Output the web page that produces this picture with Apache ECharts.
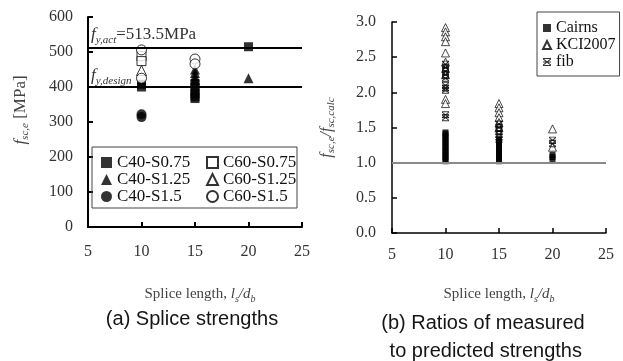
<!DOCTYPE html>
<html><head><meta charset="utf-8">
<script src="https://cdn.jsdelivr.net/npm/echarts@6/dist/echarts.min.js"></script>
<style>html,body{margin:0;padding:0;background:#fff}#c{width:623px;height:361px}</style>
</head><body><div id="c"></div>
<script>
// ---- data: panel (a) splice strengths [MPa] ----
const c40s075 = [[10,408],[10,400],[15,410],[15,400],[15,390],[15,380],[15,372],[15,367],[20,515]];
const c60s075 = [[10,488],[10,474]];
const c40s125 = [[15,450],[15,440],[15,430],[15,420],[20,425]];
const c60s125 = [[10,447]];
const c40s15  = [[10,322],[10,314]];
const c60s15  = [[10,506],[10,425],[15,480],[15,466]];
const fyAct = 513.5;
const fyDesign = 400;
// ---- data: panel (b) ratios ----
const cairns = [[10,1.02],[10,1.05],[10,1.08],[10,1.11],[10,1.14],[10,1.17],[10,1.20],[10,1.23],[10,1.26],[10,1.29],[10,1.32],[10,1.35],[10,1.38],[10,1.41],[10,1.43],
  [15,1.02],[15,1.05],[15,1.08],[15,1.11],[15,1.14],[15,1.17],[15,1.20],[15,1.23],[15,1.26],[15,1.29],[15,1.31],
  [20,1.05],[20,1.08],[20,1.11]];
const kci2007 = [[10,2.92],[10,2.86],[10,2.79],[10,2.72],[10,2.56],[10,2.43],[10,2.34],[10,2.25],[10,1.90],[10,1.84],
  [15,1.84],[15,1.78],[15,1.71],[15,1.64],[15,1.57],[15,1.50],
  [20,1.48],[20,1.22]];
const fib = [[10,2.40],[10,2.35],[10,2.30],[10,2.25],[10,2.20],[10,2.10],[10,2.06],[10,2.03],[10,1.68],[10,1.64],
  [15,1.55],[15,1.50],[15,1.45],[15,1.40],[15,1.36],[15,1.33],
  [20,1.32],[20,1.27]];
const ratioRef = 1.0;
const xMin = 5, xMax = 25, xStep = 5;

const serif = 'Liberation Serif';
const sans = 'Liberation Sans';
const fibPath = 'path://M0,0L10,0L10,1.3L0,1.3Z M0,8.7L10,8.7L10,10L0,10Z M0,4.4L10,4.4L10,5.6L0,5.6Z M0,1.3L1.3,1.3L5,4.1L8.7,1.3L10,1.3L10,2L5.9,5L10,8L10,8.7L8.7,8.7L5,5.9L1.3,8.7L0,8.7L0,8L4.1,5L0,2Z';
const hollow = {color:'#fff', borderColor:'#000', borderWidth:1};
const solid = {color:'#000'};

const axisLbl = {fontFamily: serif, fontSize: 16, color: '#333'};
function xAxisCfg(gi, margin, gap, lw, pad){
  return {type:'value', gridIndex:gi, min:xMin, max:xMax, interval:xStep,
    axisLine:{lineStyle:{color:'#000', width:lw}}, axisTick:{inside:true, length:5, lineStyle:{color:'#000', width:lw}},
    splitLine:{show:false}, axisLabel:Object.assign({margin:margin}, axisLbl),
    name:'{p|}{n|Splice length, }{i|l}{s|s}{i|/d}{s|b}', nameLocation:'middle', nameGap:gap,
    nameTextStyle:{rich:{
      p:{width:pad, lineHeight:20},
      n:{fontFamily:serif, fontSize:15, color:'#444', lineHeight:20, verticalAlign:'middle'},
      i:{fontFamily:serif, fontSize:15, fontStyle:'italic', color:'#444', lineHeight:20, verticalAlign:'middle'},
      s:{fontFamily:serif, fontSize:10, fontStyle:'italic', color:'#444', lineHeight:12, verticalAlign:'bottom'}
    }}
  };
}
const subRich = {
  i:{fontFamily:serif, fontSize:17, fontStyle:'italic', color:'#333', lineHeight:22, verticalAlign:'middle'},
  s:{fontFamily:serif, fontSize:11, fontStyle:'italic', color:'#333', lineHeight:12, verticalAlign:'bottom'},
  n:{fontFamily:serif, fontSize:17, color:'#333', lineHeight:22, verticalAlign:'middle'}
};

const chart = echarts.init(document.getElementById('c'), null, {renderer:'canvas'});
const leftSeries = [
  {name:'C40-S0.75', data:c40s075, symbol:'rect', symbolSize:9, itemStyle:solid},
  {name:'C60-S0.75', data:c60s075, symbol:'rect', symbolSize:9, itemStyle:hollow},
  {name:'C40-S1.25', data:c40s125, symbol:'triangle', symbolSize:10, itemStyle:solid},
  {name:'C60-S1.25', data:c60s125, symbol:'triangle', symbolSize:10, itemStyle:hollow},
  {name:'C40-S1.5', data:c40s15, symbol:'circle', symbolSize:10, itemStyle:solid},
  {name:'C60-S1.5', data:c60s15, symbol:'circle', symbolSize:10, itemStyle:hollow}
].map(s => Object.assign({type:'scatter', xAxisIndex:0, yAxisIndex:0, z:3}, s));

leftSeries.unshift({type:'line', xAxisIndex:0, yAxisIndex:0, data:[], z:2, silent:true,
  markLine:{silent:true, symbol:['none','none'], animation:false,
    lineStyle:{color:'#000', width:2, type:'solid'},
    data:[
      {yAxis:fyAct, label:{show:true, position:'insideStartTop', distance:[3,2], formatter:'{i|f}{s|y,act}{n|=513.5MPa}', rich:subRich}},
      {yAxis:fyDesign, label:{show:true, position:'insideStartTop', distance:[3,0], formatter:'{i|f}{s|y,design}', rich:subRich}}
    ]}});

const rightSeries = [
  {name:'Cairns', data:cairns, symbol:'rect', symbolSize:6, itemStyle:solid},
  {name:'KCI2007', data:kci2007, symbol:'triangle', symbolSize:8, itemStyle:{color:'#fff', borderColor:'#000', borderWidth:0.9}},
  {name:'fib', data:fib, symbol:fibPath, symbolSize:7, itemStyle:solid}
].map(s => Object.assign({type:'scatter', xAxisIndex:1, yAxisIndex:1, z:3}, s));
rightSeries.unshift({type:'line', xAxisIndex:1, yAxisIndex:1, data:[], z:2, silent:true,
  markLine:{silent:true, symbol:['none','none'], animation:false, label:{show:false},
    lineStyle:{color:'#8a8a8a', width:2, type:'solid'}, data:[{yAxis:ratioRef}]}});

const legendText = {fontFamily:serif, fontSize:17, color:'#111', lineHeight:15};
chart.setOption({
  animation:false,
  backgroundColor:'#fff',
  title:[
    {text:'(a) Splice strengths', left:187, top:304, textAlign:'center',
      textStyle:{fontFamily:sans, fontSize:20, fontWeight:'normal', color:'#151515'}},
    {text:'(b) Ratios of measured\n to predicted strengths', left:478, top:304, textAlign:'center',
      textStyle:{fontFamily:sans, fontSize:20, fontWeight:'normal', color:'#151515', lineHeight:28}}
  ],
  grid:[
    {left:88, top:17, width:214, height:210},
    {left:392, top:22, width:214, height:211}
  ],
  xAxis:[xAxisCfg(0, 17, 57, 2, 10), xAxisCfg(1, 14, 51, 1.5, 0)],
  yAxis:[
    {type:'value', gridIndex:0, min:0, max:600, interval:100,
      axisLine:{show:true, lineStyle:{color:'#000', width:2}}, axisTick:{show:true, inside:true, length:5, lineStyle:{color:'#000', width:2}},
      splitLine:{show:false}, axisLabel:Object.assign({margin:15}, axisLbl),
      name:'{p|}{i|f}{s|sc,e}{n| [MPa]}', nameLocation:'middle', nameRotate:90, nameGap:57,
      nameTextStyle:{rich:{
        p:{width:24, lineHeight:20},
        i:{fontFamily:serif, fontSize:17, fontStyle:'italic', color:'#444', lineHeight:20, verticalAlign:'middle'},
        s:{fontFamily:serif, fontSize:11, fontStyle:'italic', color:'#444', lineHeight:12, verticalAlign:'bottom'},
        n:{fontFamily:serif, fontSize:17, color:'#444', lineHeight:20, verticalAlign:'middle'}}}},
    {type:'value', gridIndex:1, min:0, max:3, interval:0.5,
      axisLine:{show:true, lineStyle:{color:'#000', width:1.5}}, axisTick:{show:true, inside:true, length:5, lineStyle:{color:'#000', width:1.5}},
      splitLine:{show:false}, axisLabel:Object.assign({margin:16, formatter:v => v.toFixed(1)}, axisLbl),
      name:'{i|f}{s|sc,e}{i|/f}{s|sc,calc}', nameLocation:'middle', nameRotate:90, nameGap:55,
      nameTextStyle:{rich:{
        i:{fontFamily:serif, fontSize:16, fontStyle:'italic', color:'#444', lineHeight:20, verticalAlign:'middle'},
        s:{fontFamily:serif, fontSize:11, fontStyle:'italic', color:'#444', lineHeight:12, verticalAlign:'bottom'}}}}
  ],
  legend:[
    {data:['C40-S0.75','C40-S1.25','C40-S1.5'], orient:'vertical', left:96, top:149, padding:5, itemGap:0,
      itemWidth:11, itemHeight:11, textStyle:legendText},
    {data:['C60-S0.75','C60-S1.25','C60-S1.5'], orient:'vertical', left:201, top:149, padding:5, itemGap:0,
      itemWidth:11, itemHeight:11, textStyle:legendText},
    {data:['Cairns','KCI2007','fib'], orient:'vertical', left:537, top:12, padding:[8,4,6,5], itemGap:1,
      itemWidth:8, itemHeight:8, textStyle:{fontFamily:serif, fontSize:16, color:'#111', lineHeight:15},
      borderColor:'#444', borderWidth:1}
  ],
  graphic:[
    {type:'rect', shape:{x:92, y:147, width:205, height:61}, style:{fill:null, stroke:'#444', lineWidth:1}, z:1}
  ],
  series: leftSeries.concat(rightSeries)
});
</script></body></html>
